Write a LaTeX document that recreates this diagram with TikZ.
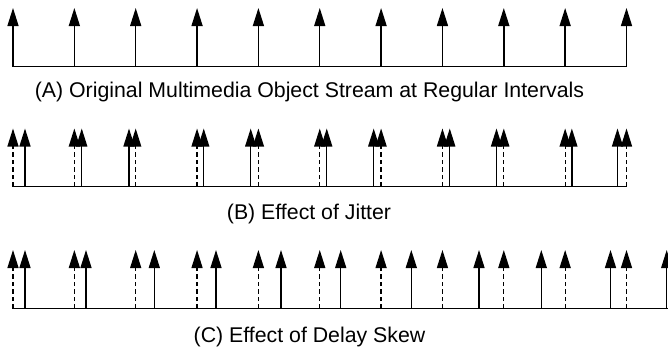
\documentclass[tikz,border=0pt]{standalone}
\usepackage{fontspec}
\setmainfont{Liberation Sans}
\usetikzlibrary{arrows.meta}
\begin{document}
\begin{tikzpicture}[x=1pt,y=-1pt,
  stem/.style={line width=1.4pt,-{Triangle[length=18pt,width=11pt]}},
  dstem/.style={stem,line width=1.3pt,dash pattern=on 4.5pt off 3pt},
  baseln/.style={line width=1.7pt},
  lbl/.style={anchor=base,inner sep=0pt,font=\fontsize{21.3}{24}\selectfont}]
\useasboundingbox (0,0) rectangle (668,351);
% Row A
\coordinate (a0) at (13,66.5);
\coordinate (a1) at (626.5,66.5);
\draw[baseln] (a0) -- (a1);
\foreach \i in {0,...,10}{
  \coordinate (ab\i) at ({13+61.35*\i},66.5);
  \coordinate (at\i) at ({13+61.35*\i},8);
  \draw[stem] (ab\i) -- (at\i);
}
\node[lbl] (la) at (309.5,97) {(A) Original Multimedia Object Stream at Regular Intervals};
% Row B
\coordinate (b0) at (13,186.5);
\coordinate (b1) at (626.5,186.5);
\draw[baseln] (b0) -- (b1);
\foreach \o [count=\c from 0] in {12,7.4,-6.7,6.7,-7.7,7,-7.4,7.3,-7.3,6.7,-9}{
  \coordinate (bdb\c) at ({13+61.35*\c},186.5);
  \coordinate (bdt\c) at ({13+61.35*\c},128.5);
  \coordinate (bsb\c) at ({13+61.35*\c+\o},186.5);
  \coordinate (bst\c) at ({13+61.35*\c+\o},128.5);
  \draw[dstem] (bdb\c) -- (bdt\c);
  \draw[stem] (bsb\c) -- (bst\c);
}
\node[lbl] (lb) at (309,219) {(B) Effect of Jitter};
% Row C
\coordinate (c0) at (13,308.5);
\coordinate (c1) at (668,308.5);
\draw[baseln] (c0) -- (c1);
\foreach \s [count=\c from 0] in {25,86,154.3,216,281,340.7,411.3,479,541.3,610.5,666.7}{
  \coordinate (cdb\c) at ({13+61.35*\c},308.5);
  \coordinate (cdt\c) at ({13+61.35*\c},250);
  \coordinate (csb\c) at (\s,308.5);
  \coordinate (cst\c) at (\s,250);
  \draw[dstem] (cdb\c) -- (cdt\c);
  \draw[stem] (csb\c) -- (cst\c);
}
\node[lbl] (lc) at (309.5,342) {(C) Effect of Delay Skew};
\end{tikzpicture}
\end{document}
